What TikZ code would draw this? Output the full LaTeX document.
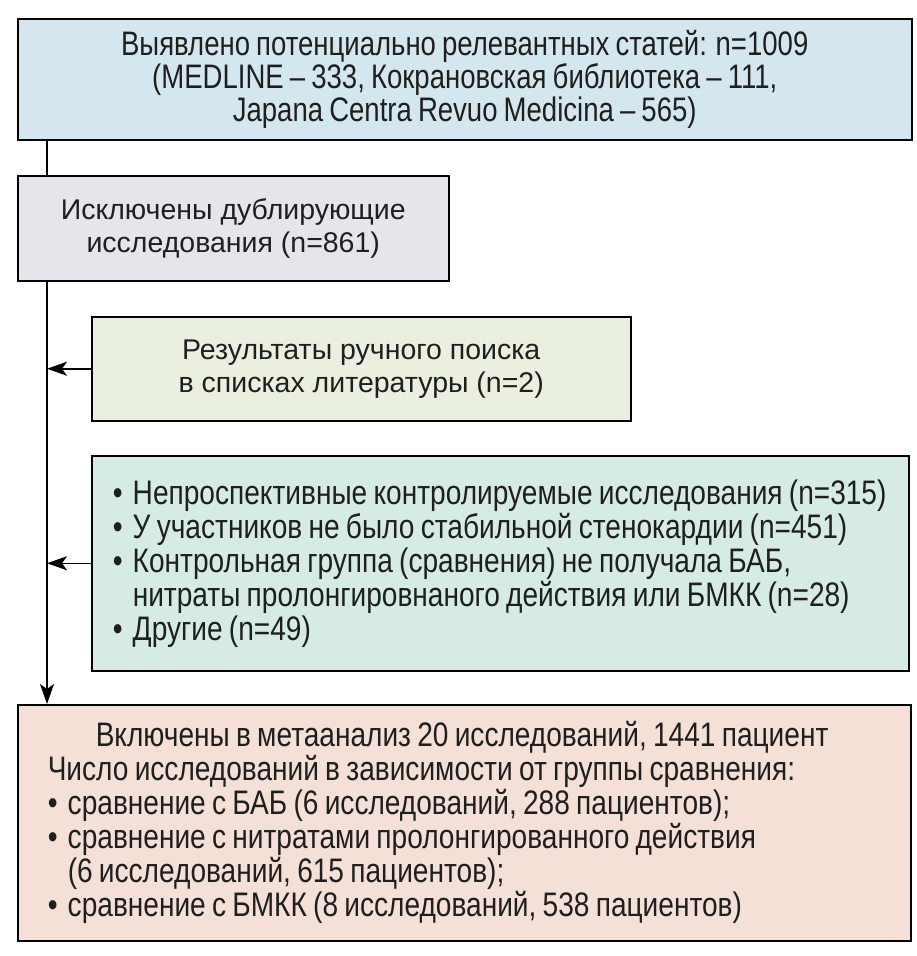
\documentclass[tikz,border=0pt]{standalone}
\usepackage{fontspec}
\setmainfont{Liberation Sans}
\newfontfamily\narrowfont{Liberation Sans}[FakeStretch=0.81, WordSpace=0.8]
\newfontfamily\listfont{Liberation Sans}[FakeStretch=0.826, WordSpace=0.8]
\usetikzlibrary{arrows.meta, backgrounds}

\definecolor{foundblue}{HTML}{D5E7EE}
\definecolor{dupgray}{HTML}{E5E5EC}
\definecolor{handgreen}{HTML}{E9F0E0}
\definecolor{exclteal}{HTML}{D6EBE5}
\definecolor{inclpeach}{HTML}{F4E0D7}

\tikzstyle{block} = [draw, line width = 1.5pt, inner sep = 0pt, text = black!88]
\tikzstyle{wide} = [font = \narrowfont\fontsize{34}{33}\selectfont]
\tikzstyle{list} = [font = \listfont\fontsize{34}{34}\selectfont, align = flush left]
\tikzstyle{plain} = [font = \fontsize{28.5}{33}\selectfont]
\tikzstyle{arrow} = [-{Stealth[length = 20pt, width = 14pt, inset = 5pt]}, line width = 1.5pt]
\newcommand{\itm}{\makebox[20pt][l]{\textbullet}}
\newcommand{\hng}{\hspace*{20pt}}

\begin{document}
\begin{tikzpicture}[x = 1pt, y = -1pt]
		\useasboundingbox (0, 0) rectangle (916, 956);
		\node [block, wide, fill = foundblue, anchor = north west, minimum width = 894pt, minimum height = 121pt, align = center] at (17, 18) (found) {Выявлено потенциально релевантных статей: n=1009\\(MEDLINE – 333, Кокрановская библиотека – 111,\\Japana Centra Revuo Medicina – 565)};
		\node [block, plain, fill = dupgray, anchor = north west, minimum width = 431pt, minimum height = 105pt, align = center] at (17, 175) (dup) {Исключены дублирующие\\исследования (n=861)};
		\node [block, plain, fill = handgreen, anchor = north west, minimum width = 539pt, minimum height = 104pt, align = center] at (91, 316) (hand) {Результаты ручного поиска\\в списках литературы (n=2)};
		\node [block, list, fill = exclteal, anchor = north west, text width = 775pt, inner xsep = 21pt, minimum height = 215pt] at (91, 455) (excl) {\itm Непроспективные контролируемые исследования (n=315)\\\itm У участников не было стабильной стенокардии (n=451)\\\itm Контрольная группа (сравнения) не получала БАБ,\\\hng нитраты пролонгировнаного действия или БМКК (n=28)\\\itm Другие (n=49)};
		\node [block, list, fill = inclpeach, anchor = north west, text width = 833pt, inner xsep = 30pt, minimum height = 236pt] at (17, 704) (incl) {\hspace*{48pt}Включены в метаанализ 20 исследований, 1441 пациент\\Число исследований в зависимости от группы сравнения:\\\itm сравнение с БАБ (6 исследований, 288 пациентов);\\\itm сравнение с нитратами пролонгированного действия\\\hng (6 исследований, 615 пациентов);\\\itm сравнение с БМКК (8 исследований, 538 пациентов)};

		\coordinate (trunk) at ([xshift = 30pt] found.south west);
		\begin{scope}[on background layer]
			\draw [arrow] (trunk) -- (trunk |- incl.north);
		\end{scope}
		\draw [arrow] (hand.west) -- (hand.west -| trunk);
		\draw [arrow] (excl.west) -- (excl.west -| trunk);
	\end{tikzpicture}
\end{document}
